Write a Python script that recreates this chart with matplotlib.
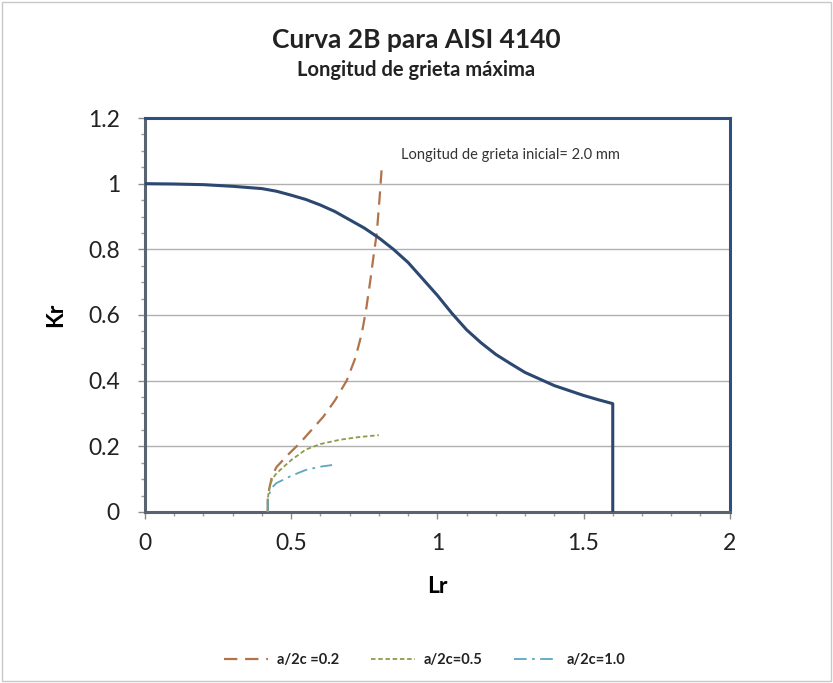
import matplotlib
matplotlib.use("Agg")
import matplotlib.pyplot as plt
from matplotlib.ticker import MultipleLocator

plt.rcParams['font.family'] = ['Lato', 'DejaVu Sans']

# Failure assessment curve (option 2B)
lr_fad = [0.0, 0.1, 0.2, 0.3, 0.4, 0.45, 0.5, 0.55, 0.6, 0.65, 0.7, 0.75, 0.8, 0.85,
          0.9, 0.95, 1.0, 1.05, 1.1, 1.15, 1.2, 1.25, 1.3, 1.35, 1.4, 1.45, 1.5,
          1.55, 1.6, 1.6]
kr_fad = [1.0, 0.999, 0.997, 0.992, 0.985, 0.977, 0.965, 0.952, 0.935, 0.915,
          0.89, 0.865, 0.835, 0.80, 0.76, 0.71, 0.66, 0.605, 0.555, 0.515, 0.48,
          0.452, 0.425, 0.405, 0.385, 0.37, 0.355, 0.342, 0.33, 0.0]

# Assessment points for each crack aspect ratio
lr_02 = [0.42, 0.42, 0.425, 0.435, 0.45, 0.49, 0.53, 0.57, 0.61, 0.65, 0.69,
         0.72, 0.742, 0.757, 0.77, 0.782, 0.793, 0.802, 0.81]
kr_02 = [0.0, 0.04, 0.07, 0.11, 0.137, 0.175, 0.21, 0.25, 0.29, 0.34, 0.40,
         0.47, 0.545, 0.62, 0.70, 0.78, 0.85, 0.95, 1.05]

lr_05 = [0.42, 0.42, 0.425, 0.435, 0.45, 0.50, 0.55, 0.60, 0.667, 0.73, 0.80]
kr_05 = [0.0, 0.04, 0.07, 0.10, 0.118, 0.158, 0.19, 0.207, 0.22, 0.228, 0.234]

lr_10 = [0.42, 0.42, 0.425, 0.435, 0.45, 0.50, 0.55, 0.60, 0.64]
kr_10 = [0.0, 0.03, 0.055, 0.075, 0.088, 0.11, 0.128, 0.138, 0.143]

fig = plt.figure(figsize=(8.33, 6.83), dpi=100)
fig.patch.set_facecolor('white')
ax = fig.add_axes([0.174, 0.2504, 0.702, 0.5768])

ax.grid(axis='y', color='#b0b0b0', linewidth=1.0, zorder=0)

ax.plot(lr_fad, kr_fad, color='#2c4770', linewidth=2.2, zorder=4)
ax.plot(lr_02, kr_02, color='#b0734a', linewidth=1.6, dashes=(6, 3.5),
        label='a/2c =0.2', zorder=3)
ax.plot(lr_05, kr_05, color='#8f9a4a', linewidth=1.3, dashes=(2.5, 1.5),
        label='a/2c=0.5', zorder=3)
ax.plot(lr_10, kr_10, color='#5aa7bf', linewidth=1.3, dashes=(7, 3, 1.5, 3),
        label='a/2c=1.0', zorder=3)

ax.set_xlim(0, 2)
ax.set_ylim(0, 1.2)
ax.xaxis.set_major_locator(MultipleLocator(0.5))
ax.xaxis.set_minor_locator(MultipleLocator(0.1))
ax.yaxis.set_major_locator(MultipleLocator(0.2))
ax.yaxis.set_minor_locator(MultipleLocator(0.05))
ax.xaxis.set_major_formatter(plt.FuncFormatter(lambda v, p: f'{v:g}'))
ax.yaxis.set_major_formatter(plt.FuncFormatter(lambda v, p: f'{v:g}'))

for side in ('top', 'right'):
    ax.spines[side].set_color('#2e4f80')
    ax.spines[side].set_linewidth(2.2)
for side in ('left', 'bottom'):
    ax.spines[side].set_color('#5a6470')
    ax.spines[side].set_linewidth(2.2)

ax.tick_params(axis='both', which='major', length=5, width=1, color='#8a8a8a',
               labelsize=16.5, labelcolor='#222222')
ax.tick_params(axis='y', which='major', pad=13)
ax.tick_params(axis='x', which='major', pad=10)
ax.tick_params(axis='both', which='minor', length=3, width=1, color='#9a9a9a')

ax.set_xlabel('Lr', fontsize=16.5, fontweight='bold', labelpad=16)
ax.set_ylabel('Kr', fontsize=16.5, fontweight='bold', labelpad=16)

ax.text(0.875, 1.087, 'Longitud de grieta inicial= 2.0 mm', fontsize=10.5,
        color='#333333', va='center', ha='left')

fig.text(0.5, 0.941, 'Curva 2B para AISI 4140', ha='center', va='center',
         fontsize=19, fontweight='bold', color='#222222')
fig.text(0.5, 0.897, 'Longitud de grieta máxima', ha='center', va='center',
         fontsize=14.5, fontweight='bold', color='#222222')

fig.legend(loc='center', bbox_to_anchor=(0.51, 0.034), ncol=3, frameon=False,
           prop={'size': 10.5, 'weight': 'bold'}, handlelength=3.0,
           columnspacing=2.2, handletextpad=0.6, labelcolor='#222222')

# outer chart border
fig.add_artist(plt.Rectangle((0.003, 0.003), 0.994, 0.994, transform=fig.transFigure,
                             fill=False, edgecolor='#c8c8c8', linewidth=1.0))

fig.savefig('out.png', dpi=100, facecolor='white')
